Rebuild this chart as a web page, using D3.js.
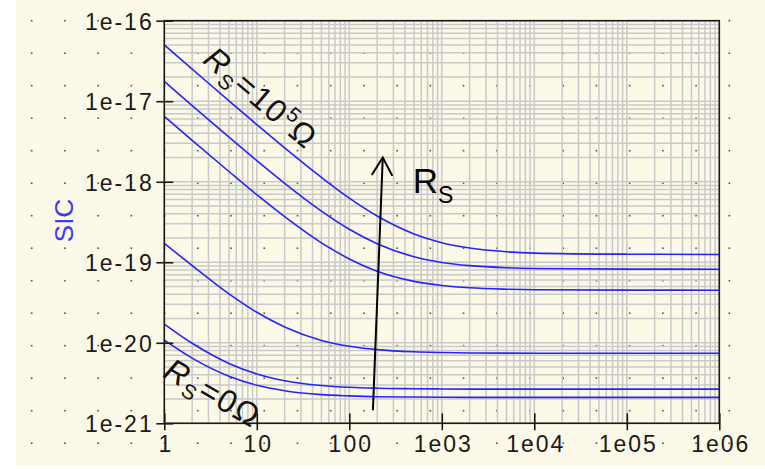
<!DOCTYPE html>
<html>
<head>
<meta charset="utf-8">
<script src="https://cdn.jsdelivr.net/npm/d3@7"></script>
<style>
  html, body { margin: 0; padding: 0; background: #ffffff; }
  svg { display: block; }
  text { font-family: "Liberation Sans", Arial, sans-serif; }
</style>
</head>
<body>
<svg id="chart" width="765" height="469"></svg>
<script>
// Frequency points (Hz) at which the SIC curves are sampled
const freq = [1, 2, 5, 10, 20, 50, 100, 200, 500, 1e3, 2e3, 5e3, 1e4, 1e5, 1e6];

// SIC for source resistances, from largest (RS = 1e5 ohm) down to RS = 0 ohm
const sicA = [5.01e-17, 2.51e-17, 1.01e-17, 5.13e-18, 2.63e-18, 1.13e-18, 6.25e-19, 3.75e-19, 2.25e-19, 1.75e-19, 1.50e-19, 1.35e-19, 1.30e-19, 1.26e-19, 1.25e-19];
const sicB = [1.76e-17, 8.83e-18, 3.58e-18, 1.83e-18, 9.57e-19, 4.32e-19, 2.57e-19, 1.70e-19, 1.17e-19, 9.95e-20, 9.08e-20, 8.55e-20, 8.38e-20, 8.22e-20, 8.20e-20];
const sicC = [6.50e-18, 3.27e-18, 1.34e-18, 6.90e-19, 3.68e-19, 1.74e-19, 1.10e-19, 7.73e-20, 5.79e-20, 5.15e-20, 4.82e-20, 4.63e-20, 4.56e-20, 4.51e-20, 4.50e-20];
const sicD = [1.72e-19, 9.10e-20, 4.05e-20, 2.39e-20, 1.57e-20, 1.07e-20, 9.05e-21, 8.23e-21, 7.73e-21, 7.57e-21, 7.48e-21, 7.43e-21, 7.42e-21, 7.40e-21, 7.40e-21];
const sicE = [1.71e-20, 9.86e-21, 5.54e-21, 4.10e-21, 3.38e-21, 2.95e-21, 2.80e-21, 2.73e-21, 2.69e-21, 2.67e-21, 2.66e-21, 2.66e-21, 2.66e-21, 2.66e-21, 2.66e-21];
const sicF = [1.08e-20, 6.45e-21, 3.84e-21, 2.97e-21, 2.54e-21, 2.27e-21, 2.19e-21, 2.14e-21, 2.12e-21, 2.11e-21, 2.10e-21, 2.10e-21, 2.10e-21, 2.10e-21, 2.10e-21];
const seriesList = [sicA, sicB, sicC, sicD, sicE, sicF];

// Axis ticks and their labels
const xTicks = [1, 10, 100, 1e3, 1e4, 1e5, 1e6];
const xTickLabels = ["1", "10", "100", "1e03", "1e04", "1e05", "1e06"];
const yTicks = [1e-21, 1e-20, 1e-19, 1e-18, 1e-17, 1e-16];
const yTickLabels = ["1e-21", "1e-20", "1e-19", "1e-18", "1e-17", "1e-16"];
const yTitle = "SIC";

// Arrow showing increasing RS: [freq, SIC] at tail and head
const arrowTail = [180, 1.45e-21];
const arrowHead = [230, 2.0e-18];

const W = 765, H = 469;
const plot = { left: 164.3, right: 719.3, top: 20.7, bottom: 423.3 };

const svg = d3.select("#chart");

const x = d3.scaleLog().domain([1, 1e6]).range([plot.left, plot.right]);
const y = d3.scaleLog().domain([1e-21, 1e-16]).range([plot.bottom, plot.top]);

// Panel background
svg.append("rect").attr("x", 16).attr("y", 0).attr("width", W - 16).attr("height", 465)
  .attr("fill", "#fdf9e8");

// Dotted background raster
const dotG = svg.append("g");
for (let i = 0; i < 22; i++) {
  for (let j = 0; j < 14; j++) {
    dotG.append("rect")
      .attr("x", 31.7 + i * 33.22 - 0.8).attr("y", 20.7 + j * 32.5 - 0.8)
      .attr("width", 1.6).attr("height", 1.6).attr("fill", "#555");
  }
}

// Log grid: every 1..9 multiple of each decade
const gridX = [];
for (let e = 0; e < 6; e++) for (let m = 1; m < 10; m++) gridX.push(m * Math.pow(10, e));
gridX.push(1e6);
const gridY = [];
for (let e = -21; e < -16; e++) for (let m = 1; m < 10; m++) gridY.push(m * Math.pow(10, e));
gridY.push(1e-16);

const gridG = svg.append("g").attr("stroke", "#c9c9c9").attr("stroke-width", 1.5);
gridG.selectAll("line.gx").data(gridX).join("line")
  .attr("x1", d => x(d)).attr("x2", d => x(d))
  .attr("y1", plot.top).attr("y2", plot.bottom);
gridG.selectAll("line.gy").data(gridY).join("line")
  .attr("y1", d => y(d)).attr("y2", d => y(d))
  .attr("x1", plot.left).attr("x2", plot.right);

// Curves
const line = d3.line()
  .x((d, i) => x(freq[i]))
  .y(d => y(d))
  .curve(d3.curveMonotoneX);
svg.append("g").selectAll("path").data(seriesList).join("path")
  .attr("d", d => line(d))
  .attr("fill", "none")
  .attr("stroke", "#2424ff")
  .attr("stroke-width", 1.6);

// Frame
svg.append("rect")
  .attr("x", plot.left).attr("y", plot.top)
  .attr("width", plot.right - plot.left).attr("height", plot.bottom - plot.top)
  .attr("fill", "none").attr("stroke", "#1a1a1a").attr("stroke-width", 1.6);

// Axes
const tickFont = 23, tickSpacing = 2;
const yAxis = d3.axisLeft(y).tickValues(yTicks)
  .tickFormat((d, i) => yTickLabels[i]).tickSize(8).tickPadding(2.6);
const gy = svg.append("g").attr("transform", `translate(${plot.left},0)`).call(yAxis);
gy.select(".domain").remove();
gy.selectAll(".tick line").attr("x1", 9).attr("x2", -8)
  .attr("stroke", "#1a1a1a").attr("stroke-width", 1.6);
gy.selectAll(".tick text")
  .attr("font-size", tickFont).attr("letter-spacing", tickSpacing)
  .attr("fill", "#1a1a1a").attr("dy", "0.37em")
  .style("font-family", "'Liberation Sans', Arial, sans-serif");

const xAxis = d3.axisBottom(x).tickValues(xTicks)
  .tickFormat((d, i) => xTickLabels[i]).tickSize(7).tickPadding(5.1);
const gx = svg.append("g").attr("transform", `translate(0,${plot.bottom})`).call(xAxis);
gx.select(".domain").remove();
gx.selectAll(".tick line").attr("y1", -10).attr("y2", 7)
  .attr("stroke", "#1a1a1a").attr("stroke-width", 1.6);
gx.selectAll(".tick text")
  .attr("font-size", tickFont).attr("letter-spacing", tickSpacing)
  .attr("dx", tickSpacing / 2)
  .attr("fill", "#1a1a1a")
  .style("font-family", "'Liberation Sans', Arial, sans-serif");

// Y title
svg.append("text")
  .attr("transform", "translate(72.5,220.5) rotate(-90)")
  .attr("text-anchor", "middle")
  .attr("font-size", 26)
  .attr("fill", "#3a3aff")
  .text(yTitle);

// Rotated RS labels
function rsLabel(fx, sy, angle, size, tail) {
  const t = svg.append("text")
    .attr("transform", `translate(${x(fx)},${y(sy)}) rotate(${angle})`)
    .attr("font-size", size).attr("fill", "#111")
    .attr("letter-spacing", 1.5);
  t.append("tspan").attr("font-style", "italic").text("R");
  t.append("tspan").attr("font-size", size * 0.65).attr("dy", size * 0.22).text("S");
  t.append("tspan").attr("dy", -size * 0.22).text("=");
  tail(t, size);
}
rsLabel(2.53, 3.1e-17, 40.4, 32, (t, s) => {
  t.append("tspan").text("10");
  t.append("tspan").attr("font-size", s * 0.65).attr("dy", -s * 0.38).text("5");
  t.append("tspan").attr("dy", s * 0.38).text("Ω");
});
rsLabel(0.94, 3.85e-21, 30, 32, (t) => {
  t.append("tspan").text("0Ω");
});

// Arrow
const ax1 = x(arrowTail[0]), ay1 = y(arrowTail[1]);
const ax2 = x(arrowHead[0]), ay2 = y(arrowHead[1]);
const ang = Math.atan2(ay2 - ay1, ax2 - ax1);
const headLen = 18, headHalf = 10.3;
const ux = Math.cos(ang), uy = Math.sin(ang);
const bx = ax2 - headLen * ux, by = ay2 - headLen * uy;
const arrowG = svg.append("g").attr("stroke", "#000").attr("stroke-width", 2).attr("fill", "none");
arrowG.append("line").attr("x1", ax1).attr("y1", ay1).attr("x2", ax2).attr("y2", ay2);
arrowG.append("path")
  .attr("d", `M${bx - headHalf * uy},${by + headHalf * ux} L${ax2},${ay2} L${bx + headHalf * uy},${by - headHalf * ux}`);

// Arrow label
const lab = svg.append("text")
  .attr("x", x(484)).attr("y", y(7.18e-19))
  .attr("font-size", 35).attr("fill", "#000");
lab.append("tspan").text("R");
lab.append("tspan").attr("font-size", 23).attr("dy", 10).text("S");
</script>
</body>
</html>
